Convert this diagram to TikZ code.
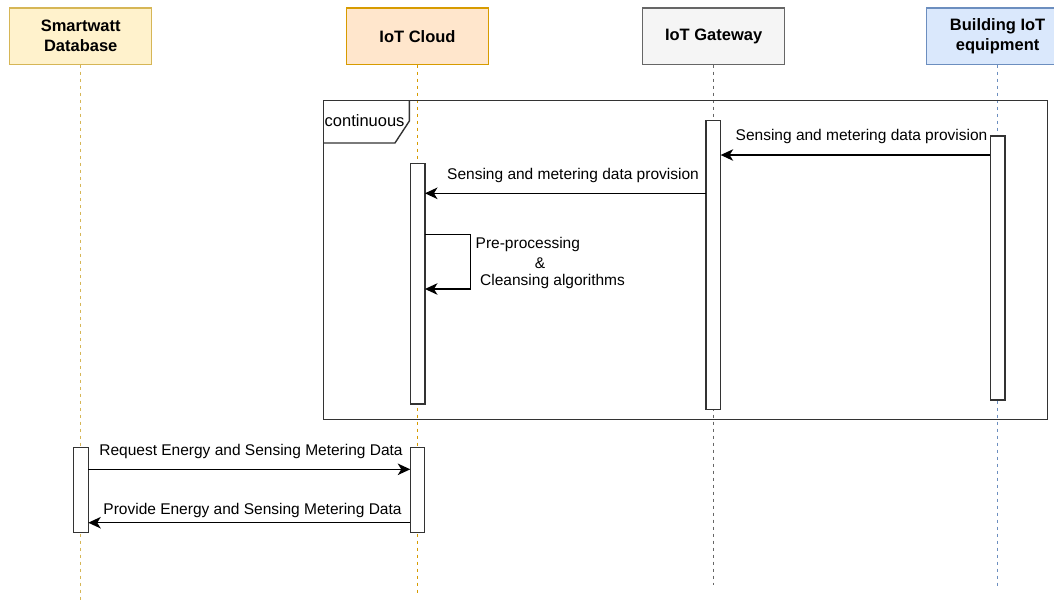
\documentclass[tikz,border=0pt]{standalone}
\usepackage{fontspec}
\setmainfont{Liberation Sans}
\usetikzlibrary{arrows.meta,calc}
\definecolor{dbfill}{HTML}{FFF2CC}\definecolor{dbline}{HTML}{D6B656}
\definecolor{clfill}{HTML}{FFE6CC}\definecolor{clline}{HTML}{D79B00}
\definecolor{gwfill}{HTML}{F5F5F5}\definecolor{gwline}{HTML}{666666}
\definecolor{bdfill}{HTML}{DAE8FC}\definecolor{bdline}{HTML}{6C8EBF}
\definecolor{ink}{HTML}{333333}
\begin{document}
\begin{tikzpicture}[x=1pt,y=-1pt,
  hdr/.style={rectangle, line width=1.4pt, minimum width=142pt, minimum height=56.5pt, inner sep=0pt, outer sep=0pt, align=center, font=\fontsize{16.5}{20}\selectfont\bfseries, text=black},
  lifeline/.style={line width=1.4pt, dash pattern=on 3.5pt off 3.5pt},
  actbar/.style={rectangle, draw=ink, fill=white, line width=1.4pt, minimum width=14.5pt, inner sep=0pt, outer sep=0pt},
  msg/.style={draw=black, line width=1.4pt, -{Stealth[length=12.5pt,width=11.5pt,inset=3.5pt]}},
  lbl/.style={font=\fontsize{15.5}{18}\selectfont, inner sep=0pt, text=black},
  framebox/.style={rectangle, draw=ink, line width=1.4pt, inner sep=0pt, outer sep=0pt}]
\useasboundingbox (0,0) rectangle (1054,600);
\clip (0,0) rectangle (1054,600);
% headers
\node[hdr, fill=dbfill, draw=dbline] (db) at (80.7,36.3) {Smartwatt\\Database};
\node[hdr, fill=clfill, draw=clline] (cl) at (417.5,36.3) {IoT Cloud};
\node[hdr, fill=gwfill, draw=gwline] (gw) at (713.6,36.3) {IoT Gateway};
\node[hdr, fill=bdfill, draw=bdline] (bd) at (997.6,36.3) {Building IoT\\equipment};
% lifeline ends
\coordinate (dbend) at (80.7,600);
\coordinate (clend) at (417.5,593);
\coordinate (gwend) at (713.6,585);
\coordinate (bdend) at (997.6,586);
\draw[lifeline, draw=dbline] (db.south) -- (dbend);
\draw[lifeline, draw=clline] (cl.south) -- (clend);
\draw[lifeline, draw=gwline] (gw.south) -- (gwend);
\draw[lifeline, draw=bdline] (bd.south) -- (bdend);
% frame
\node[framebox, minimum width=724pt, minimum height=318.5pt] (frame) at (685.7,260) {};
\draw[ink, line width=1.4pt] ($(frame.north west)+(85.7,0)$) -- ++(0,20.2) -- ++(-14.4,22) -- ($(frame.north west)+(0,42.2)$);
\node[lbl, font=\fontsize{16.5}{18}\selectfont, anchor=west] (cont) at (324.5,121) {continuous};
% activation bars
\node[actbar, minimum height=288.6pt] (gbar) at (713.4,265) {};
\node[actbar, minimum height=264pt] (bbar) at (997.6,268) {};
\node[actbar, minimum height=240.7pt] (cbar) at (417.7,283.7) {};
\node[actbar, minimum height=85pt] (dbar) at (81,490.2) {};
\node[actbar, minimum height=85pt] (cbar2) at (417.5,490.2) {};
% message rows
\coordinate (y1) at (0,155);
\coordinate (y2) at (0,193.3);
\coordinate (y3a) at (0,234.3);
\coordinate (y3b) at (0,289);
\coordinate (y4) at (0,469.3);
\coordinate (y5) at (0,522.7);
\coordinate (selfx) at (470.3,0);
% messages
\draw[msg] (bbar.west |- y1) -- (gbar.east |- y1);
\node[lbl] (l1) at (861.5,136) {Sensing and metering data provision};
\draw[msg] (gbar.west |- y2) -- (cbar.east |- y2);
\node[lbl] (l2) at (573,175) {Sensing and metering data provision};
\draw[msg] (cbar.east |- y3a) -- (selfx |- y3a) -- (selfx |- y3b) -- (cbar.east |- y3b);
\node[lbl, anchor=west] (l3a) at (475.5,244.3) {Pre-processing};
\node[lbl] (l3b) at (540,263.3) {\&};
\node[lbl, anchor=west] (l3c) at (480,281.5) {Cleansing algorithms};
\draw[msg] (dbar.east |- y4) -- (cbar2.west |- y4);
\node[lbl] (l4) at (251,451) {Request Energy and Sensing Metering Data};
\draw[msg] (cbar2.west |- y5) -- (dbar.east |- y5);
\node[lbl] (l5) at (252.5,510) {Provide Energy and Sensing Metering Data};
\end{tikzpicture}
\end{document}
